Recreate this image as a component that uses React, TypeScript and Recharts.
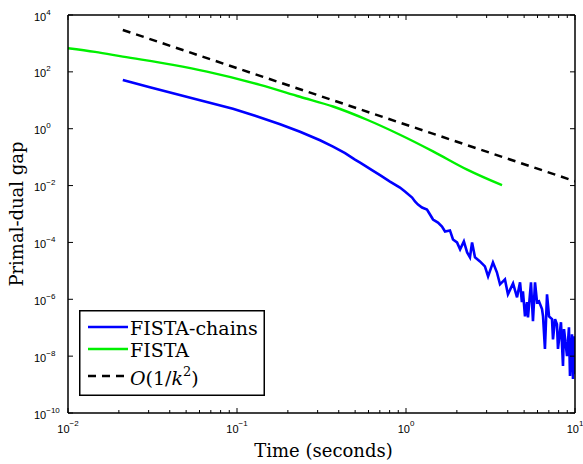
import React from "react";
import { LineChart, Line, XAxis, YAxis, Legend } from "recharts";

// ─────────────────────────────────────────────
//  Primal-dual gap vs. time (log-log)
// ─────────────────────────────────────────────

const X_TICKS = [
  0.01, 0.02, 0.03, 0.04, 0.05, 0.06, 0.07, 0.08, 0.09,
  0.1, 0.2, 0.3, 0.4, 0.5, 0.6, 0.7, 0.8, 0.9,
  1, 2, 3, 4, 5, 6, 7, 8, 9, 10,
];
const Y_TICKS = [1e-10, 1e-8, 1e-6, 1e-4, 1e-2, 1, 1e2, 1e4];

// FISTA-chains (blue, smooth head, noisy tail)
const chainsTime = [
  0.0211, 0.0305, 0.0418, 0.0604, 0.0946, 0.128, 0.18, 0.236, 0.31, 0.37,
  0.436, 0.499, 0.535, 0.571, 0.629, 0.702, 0.804, 0.921, 0.986,
  1.087, 1.13, 1.178, 1.244, 1.331, 1.387, 1.445, 1.546, 1.633, 1.702,
  1.82, 1.897, 2.004, 2.09, 2.2, 2.3, 2.39, 2.46, 2.56, 2.74,
  2.93, 3.06, 3.27, 3.45, 3.6, 3.85, 4.01, 4.3, 4.54, 4.73,
  4.85, 4.92, 5.06, 5.2, 5.27, 5.49, 5.64, 5.8, 5.96, 6.12,
  6.38, 6.47, 6.64, 6.83, 7.02, 7.31, 7.41, 7.62, 7.82, 7.93,
  8.26, 8.49, 8.61, 8.97, 9.21, 9.34, 9.6, 9.73, 9.86, 10.0,
];
const chainsGap = [
  52, 28.6, 17.6, 10.0, 5.04, 2.86, 1.44, 0.785, 0.394, 0.233,
  0.138, 0.0817, 0.0641, 0.0504, 0.035, 0.0233, 0.0138, 0.0085, 0.00615,
  0.00379, 0.00275, 0.00215, 0.00169, 0.00144, 9.6e-4, 6.4e-4, 5.0e-4, 3.64e-4, 2.43e-4,
  2.64e-4, 1.27e-4, 1.0e-4, 5.7e-5, 1.08e-4, 4.46e-5, 2.98e-5, 1.0e-4, 2.98e-5, 2.15e-5,
  1.44e-5, 6.4e-6, 1.99e-5, 8.9e-6, 3.36e-6, 5.0e-6, 1.5e-6, 3.6e-6, 1.17e-6, 3.95e-6,
  7.9e-7, 1.9e-6, 2.5e-7, 7.9e-7, 2.3e-7, 3.95e-6, 1.7e-7, 3.95e-6, 7.9e-7, 8.5e-7,
  4.5e-7, 2.5e-7, 1.8e-8, 1.5e-6, 2.5e-7, 2.0e-7, 3.9e-8, 2.0e-7, 1.33e-7, 1.8e-8,
  1.56e-7, 4.5e-9, 8.9e-8, 1.0e-8, 1.04e-7, 2.0e-9, 5.9e-8, 1.56e-9, 5.0e-8, 2.3e-9,
];

// FISTA (green)
const fistaTime = [0.01, 0.01445, 0.0211, 0.0418, 0.0664, 0.137, 0.236, 0.37, 0.588, 0.921, 1.445, 2.3, 3.7];
const fistaGap = [679, 504, 344, 176, 102, 35, 13.3, 6.05, 2.07, 0.615, 0.16, 0.0364, 0.0103];

// O(1/k^2) reference (black dashed)
const refTime = [0.0211, 10];
const refGap = [2980, 0.0142];

const zip = (ts: number[], gs: number[]) => ts.map((t, i) => ({ t, gap: gs[i] }));
const chainsData = zip(chainsTime, chainsGap);
const fistaData = zip(fistaTime, fistaGap);
const refData = zip(refTime, refGap);

const TICK_FONT = "Liberation Sans";
const SERIF = "DejaVu Serif";

const expOf = (v: number) => Math.round(Math.log10(v));
const isDecade = (v: number) => Math.abs(Math.log10(v) - expOf(v)) < 1e-6;
const fmtExp = (e: number) => (e < 0 ? "\u2212" + -e : String(e));

function BottomTick({ x, y, payload }: any) {
  const major = isDecade(payload.value);
  return (
    <g>
      <line x1={x} x2={x} y1={y} y2={y - (major ? 5 : 3)} stroke="#000" strokeWidth={1} />
      {major && (
        <text x={x} y={y + 20} textAnchor="middle" fontFamily={TICK_FONT} fontSize={11} fill="#000">
          10<tspan dy={-7} fontSize={8}>{fmtExp(expOf(payload.value))}</tspan>
        </text>
      )}
    </g>
  );
}

function TopTick({ x, y, payload }: any) {
  const major = isDecade(payload.value);
  return <line x1={x} x2={x} y1={y} y2={y + (major ? 5 : 3)} stroke="#000" strokeWidth={1} />;
}

function LeftTick({ x, y, payload }: any) {
  return (
    <g>
      <line x1={x} x2={x + 5} y1={y} y2={y} stroke="#000" strokeWidth={1} />
      <text x={x - 34} y={y + 5.5} textAnchor="start" fontFamily={TICK_FONT} fontSize={11} fill="#000">
        10<tspan dy={-6} fontSize={8}>{fmtExp(expOf(payload.value))}</tspan>
      </text>
    </g>
  );
}

function RightTick({ x, y }: any) {
  return <line x1={x} x2={x - 5} y1={y} y2={y} stroke="#000" strokeWidth={1} />;
}

function XTitle({ viewBox }: any) {
  return (
    <text x={viewBox.x + viewBox.width / 2 + 2} y={viewBox.y + 44} textAnchor="middle"
      fontFamily={SERIF} fontSize={18} fill="#000">
      Time (seconds)
    </text>
  );
}

function YTitle({ viewBox }: any) {
  const cx = viewBox.x + 23;
  const cy = viewBox.y + viewBox.height / 2;
  return (
    <text x={cx} y={cy} transform={`rotate(-90, ${cx}, ${cy})`} textAnchor="middle"
      fontFamily={SERIF} fontSize={18} fill="#000">
      Primal-dual gap
    </text>
  );
}

const LEGEND = [
  { label: "FISTA-chains", color: "#0000ff", dash: undefined },
  { label: "FISTA", color: "#00f000", dash: undefined },
  { label: "O(1/k²)", color: "#000000", dash: "8 6" },
];

function LegendBox() {
  const rows = [17, 39, 66];
  const base = [25, 47, 75];
  return (
    <svg width={186} height={86} style={{ display: "block" }}>
      <rect x={0.75} y={0.75} width={184.5} height={84.5} fill="#fff" stroke="#000" strokeWidth={1.5} />
      {LEGEND.map((item, i) => (
        <g key={item.label}>
          <line x1={9} x2={49} y1={rows[i]} y2={rows[i]} stroke={item.color} strokeWidth={2.5}
            strokeDasharray={item.dash} />
          <text x={51} y={base[i]} fontFamily={SERIF} fontSize={19} fill="#000">
            {i < 2 ? (
              item.label
            ) : (
              <>
                <tspan fontStyle="italic">O</tspan>(1/<tspan fontStyle="italic">k</tspan>
                <tspan dy={-9} fontSize={13}>2</tspan>
                <tspan dy={9}>)</tspan>
              </>
            )}
          </text>
        </g>
      ))}
    </svg>
  );
}

export default function App() {
  return (
    <div style={{ position: "absolute", left: 0, top: 0, width: 583, height: 464, background: "#fff" }}>
      <LineChart width={583} height={464} margin={{ top: 0, right: 0, bottom: 0, left: 0 }}>
        <XAxis xAxisId="b" dataKey="t" type="number" scale="log" domain={[0.01, 10]} allowDataOverflow
          ticks={X_TICKS} interval={0} height={51} tickSize={0} tickMargin={0}
          axisLine={{ stroke: "#000", strokeWidth: 1.5 }} tickLine={false} tick={<BottomTick />}
          label={<XTitle />} />
        <XAxis xAxisId="t" orientation="top" dataKey="t" type="number" scale="log" domain={[0.01, 10]}
          allowDataOverflow ticks={X_TICKS} interval={0} height={15} tickSize={0} tickMargin={0}
          axisLine={{ stroke: "#000", strokeWidth: 1.5 }} tickLine={false} tick={<TopTick />} />
        <YAxis yAxisId="l" type="number" scale="log" domain={[1e-10, 1e4]} allowDataOverflow
          ticks={Y_TICKS} interval={0} width={68} tickSize={0} tickMargin={0}
          axisLine={{ stroke: "#000", strokeWidth: 1.5 }} tickLine={false} tick={<LeftTick />}
          label={<YTitle />} />
        <YAxis yAxisId="r" orientation="right" type="number" scale="log" domain={[1e-10, 1e4]}
          allowDataOverflow ticks={Y_TICKS} interval={0} width={8} tickSize={0} tickMargin={0}
          axisLine={{ stroke: "#000", strokeWidth: 1.5 }} tickLine={false} tick={<RightTick />} />

        <Line xAxisId="b" yAxisId="l" data={chainsData} dataKey="gap" name="FISTA-chains"
          type="linear" stroke="#0000ff" strokeWidth={2.6} dot={false} isAnimationActive={false} />
        <Line xAxisId="b" yAxisId="l" data={fistaData} dataKey="gap" name="FISTA"
          type="monotone" stroke="#00f000" strokeWidth={2.4} dot={false} isAnimationActive={false} />
        <Line xAxisId="b" yAxisId="l" data={refData} dataKey="gap" name="O(1/k^2)"
          type="linear" stroke="#000" strokeWidth={2.5} strokeDasharray="8 6" dot={false}
          isAnimationActive={false} />

        <Legend layout="vertical" align="center" verticalAlign="middle" content={<LegendBox />}
          wrapperStyle={{ left: 79, top: 310, width: 186, height: 86 }} />
      </LineChart>
    </div>
  );
}
